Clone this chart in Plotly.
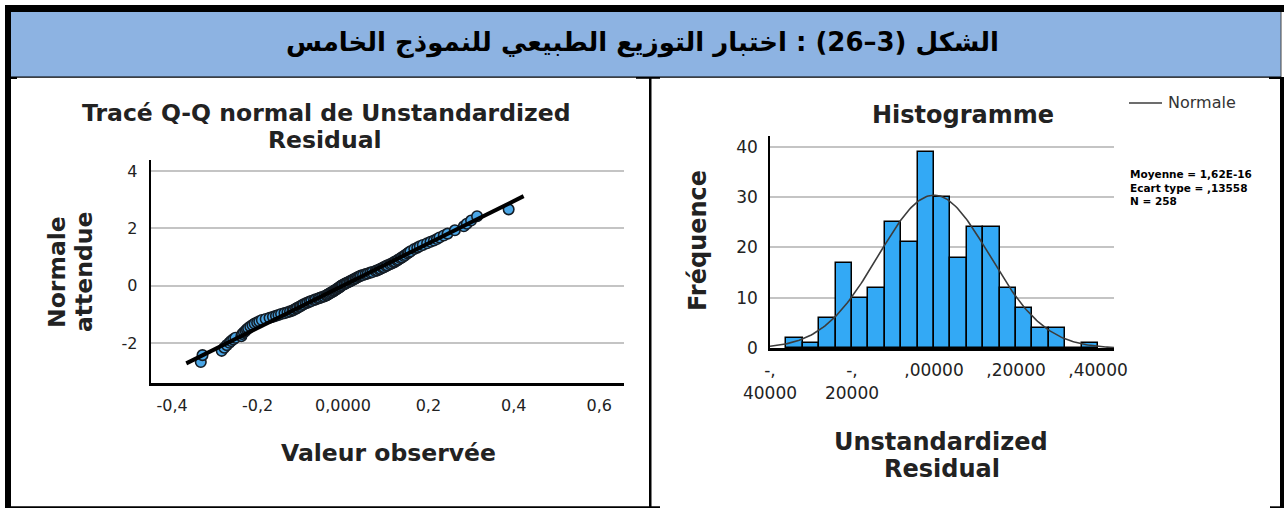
import math
import plotly.graph_objects as go

W, H = 1284, 508

# ---------------- data ----------------
# Q-Q plot: observed unstandardized residuals (x) vs expected normal values (y)
qq_observed = [-0.333, -0.329, -0.284, -0.278, -0.272, -0.266, -0.262, -0.257, -0.252,
               -0.238, -0.236, -0.232, -0.228, -0.225, -0.222, -0.217, -0.212, -0.207,
               -0.201, -0.196, -0.190, -0.181, -0.172, -0.164, -0.157, -0.151, -0.145,
               -0.137, -0.130, -0.124, -0.118, -0.115, -0.110, -0.107, -0.102, -0.099,
               -0.095, -0.092, -0.087, -0.083, -0.078, -0.074, -0.068, -0.064, -0.058,
               -0.054, -0.049, -0.044, -0.039, -0.037, -0.034, -0.031, -0.028, -0.025,
               -0.022, -0.020, -0.017, -0.015, -0.012, -0.010, -0.007, -0.006, -0.003,
               -0.001, 0.003, 0.005, 0.009, 0.012, 0.016, 0.019, 0.022, 0.025, 0.029,
               0.031, 0.035, 0.038, 0.042, 0.047, 0.053, 0.058, 0.064, 0.069, 0.076,
               0.080, 0.085, 0.088, 0.093, 0.096, 0.101, 0.104, 0.110, 0.114, 0.119,
               0.122, 0.127, 0.130, 0.135, 0.138, 0.143, 0.146, 0.151, 0.154, 0.158,
               0.167, 0.174, 0.180, 0.187, 0.197, 0.205, 0.213, 0.220, 0.226, 0.236,
               0.245, 0.262, 0.283, 0.290, 0.300, 0.314, 0.388]
qq_expected = [-2.66, -2.42, -2.27, -2.16, -2.07, -1.99, -1.93, -1.87, -1.815,
               -1.76, -1.681, -1.62, -1.573, -1.52, -1.480, -1.42, -1.372, -1.32,
               -1.280, -1.24, -1.196, -1.16, -1.120, -1.085, -1.050, -1.02, -0.985,
               -0.955, -0.924, -0.895, -0.867, -0.839, -0.798, -0.772, -0.733, -0.708,
               -0.672, -0.647, -0.612, -0.589, -0.554, -0.533, -0.499, -0.477, -0.445,
               -0.424, -0.392, -0.371, -0.340, -0.319, -0.289, -0.269, -0.239, -0.220,
               -0.190, -0.170, -0.141, -0.121, -0.092, -0.073, -0.044, -0.024, 0.005,
               0.024, 0.053, 0.073, 0.102, 0.121, 0.151, 0.170, 0.200, 0.220, 0.249,
               0.269, 0.300, 0.319, 0.350, 0.371, 0.403, 0.424, 0.456, 0.477, 0.510,
               0.533, 0.566, 0.589, 0.624, 0.647, 0.684, 0.708, 0.746, 0.772, 0.812,
               0.839, 0.881, 0.910, 0.955, 0.986, 1.034, 1.068, 1.120, 1.157, 1.196,
               1.280, 1.325, 1.372, 1.420, 1.480, 1.530, 1.573, 1.625, 1.681, 1.750,
               1.815, 1.93, 2.07, 2.16, 2.27, 2.42, 2.66]
qq_line_x = [-0.367, 0.423]          # extent of the fitted reference line

# Histogram
hist_bin_start = [-0.36, -0.32, -0.28, -0.24, -0.20, -0.16, -0.12, -0.08, -0.04, 0.00,
                  0.04, 0.08, 0.12, 0.16, 0.20, 0.24, 0.28, 0.32, 0.36]
hist_counts = [2, 1, 6, 17, 10, 12, 25, 21, 39, 30, 18, 24, 24, 12, 8, 4, 4, 0, 1]
bin_width = 0.04
resid_mean = 1.62e-16
resid_sd = 0.13558
resid_n = 258

qq_xticks = [-0.4, -0.2, 0.0, 0.2, 0.4, 0.6]
qq_xticktext = ["-0,4", "-0,2", "0,0000", "0,2", "0,4", "0,6"]
qq_yticks = [-2, 0, 2, 4]
qq_yticktext = ["-2", "0", "2", "4"]
hist_xticks = [-0.4, -0.2, 0.0, 0.2, 0.4]
hist_xticktext = ["-,<br>40000", "-,<br>20000", ",00000", ",20000", ",40000"]
hist_yticks = [0, 10, 20, 30, 40]

title_ar = "\u202Bالشكل (3\u201326) : اختبار التوزيع الطبيعي للنموذج الخامس\u202C"
stats_text = "Moyenne = 1,62E-16<br>Ecart type = ,13558<br>N = 258"

# ---------------- helpers ----------------
def fx(px):
    return px / W

def fy(py):
    return 1 - py / H

FONT = "DejaVu Sans"
TXT = "#222222"

fig = go.Figure()

# Q-Q plot: points, then the fitted line on top
fig.add_trace(go.Scatter(
    x=qq_observed, y=qq_expected, mode="markers",
    marker=dict(size=10.5, color="#4AA6E6", line=dict(color="#141c24", width=1.6)),
    xaxis="x", yaxis="y", showlegend=False, hoverinfo="skip"))
fig.add_trace(go.Scatter(
    x=qq_line_x, y=[(v - resid_mean) / resid_sd for v in qq_line_x], mode="lines",
    line=dict(color="black", width=4), xaxis="x", yaxis="y", showlegend=False,
    hoverinfo="skip"))

# Histogram
fig.add_trace(go.Bar(
    x=[s + bin_width / 2 for s in hist_bin_start], y=hist_counts, width=bin_width,
    marker=dict(color="#33A9F5", line=dict(color="black", width=1.5)),
    xaxis="x2", yaxis="y2", showlegend=False, hoverinfo="skip"))

x_lo, x_hi = -0.40, 0.439
steps = 200
curve_x = [x_lo + (x_hi - x_lo) * i / steps for i in range(steps + 1)]
curve_y = [resid_n * bin_width / (resid_sd * math.sqrt(2 * math.pi)) *
           math.exp(-0.5 * ((v - resid_mean) / resid_sd) ** 2) for v in curve_x]
fig.add_trace(go.Scatter(
    x=curve_x, y=curve_y, mode="lines", line=dict(color="#3c3c3c", width=1.6),
    xaxis="x2", yaxis="y2", showlegend=False, hoverinfo="skip"))

tickfont = dict(family=FONT, size=16, color=TXT)
axis_common = dict(showline=True, linecolor="black", zeroline=False, ticks="",
                   automargin=False, fixedrange=True)

fig.update_layout(
    template="none",
    width=W, height=H, margin=dict(l=0, r=0, t=0, b=0, pad=0, autoexpand=False),
    paper_bgcolor="white", plot_bgcolor="white", showlegend=False,
    xaxis=dict(domain=[fx(150.7), fx(624.3)], range=[-0.4503, 0.6588],
               tickvals=qq_xticks, ticktext=qq_xticktext, showgrid=False,
               linewidth=2.5, anchor="y", ticklabelstandoff=6, tickfont=tickfont,
               **axis_common),
    yaxis=dict(domain=[fy(382.7), fy(160)], range=[-3.38, 4.38],
               tickvals=qq_yticks, ticktext=qq_yticktext, showgrid=True,
               gridcolor="#C4C4C4", gridwidth=1.5,
               linewidth=2, anchor="x", ticklabelstandoff=8, tickfont=tickfont,
               **axis_common),
    xaxis2=dict(domain=[fx(770), fx(1114)], range=[-0.40, 0.439],
                tickvals=hist_xticks, ticktext=hist_xticktext, showgrid=False,
                linewidth=2.5, anchor="y2", ticklabelstandoff=5,
                tickfont=dict(family=FONT, size=17, color=TXT), **axis_common),
    yaxis2=dict(domain=[fy(348.3), fy(136)], range=[0, 42.1],
                tickvals=hist_yticks, showgrid=True, gridcolor="#C4C4C4", gridwidth=1.5,
                linewidth=1.5, anchor="x2", ticklabelstandoff=7,
                tickfont=dict(family=FONT, size=17, color=TXT), **axis_common),
    bargap=0,
)

# ---------------- frame / table borders ----------------
def rect(x0, y0, x1, y1, color):
    fig.add_shape(type="rect", xref="paper", yref="paper", x0=fx(x0), x1=fx(x1),
                  y0=fy(y1), y1=fy(y0), fillcolor=color, line=dict(width=0),
                  layer="above")

rect(11, 12, 1281, 77, "#8DB3E2")      # title band
rect(5, 5, 1284, 12, "black")          # top border
rect(5, 5, 11, 508, "black")           # left border
rect(1280, 77, 1284, 508, "black")     # right border
rect(1280.5, 12, 1281.5, 77, "#444444")
rect(11, 76.5, 1281, 77.8, "black")    # line under the band
rect(11, 77, 17, 79, "black")
rect(636, 77, 660, 78.8, "black")
rect(1269, 77, 1284, 79, "black")
rect(649, 77, 651.5, 508, "black")     # cell divider
rect(5, 506.3, 660, 508, "black")      # bottom of left cell
rect(1270, 506.3, 1284, 508, "black")

# ---------------- texts ----------------
def text(x, y, s, size, bold=False, color=TXT, xanchor="center", yanchor="middle",
         angle=0, family=FONT, align="center"):
    fig.add_annotation(xref="paper", yref="paper", x=fx(x), y=fy(y), text=s,
                       showarrow=False, xanchor=xanchor, yanchor=yanchor,
                       textangle=angle, align=align,
                       font=dict(family=family, size=size, color=color,
                                 weight="bold" if bold else "normal"))

text(642, 43, title_ar, 26, bold=True, color="black")

text(326, 113, "Tracé Q-Q normal de Unstandardized", 23.5, bold=True)
text(325, 140, "Residual", 23.5, bold=True)
text(57, 272, "Normale", 23.5, bold=True, angle=-90)
text(84, 272, "attendue", 23.5, bold=True, angle=-90)
text(388, 453, "Valeur observée", 23.5, bold=True)

text(963, 115, "Histogramme", 24, bold=True)
text(698, 241, "Fréquence", 24, bold=True, angle=-90)
text(941, 442, "Unstandardized", 24, bold=True)
text(942, 469, "Residual", 24, bold=True)

# legend
fig.add_shape(type="line", xref="paper", yref="paper", x0=fx(1129), x1=fx(1162),
              y0=fy(103), y1=fy(103), line=dict(color="#3c3c3c", width=1.6))
text(1166, 103, "Normale", 16, color="#333333", xanchor="left")
text(1128, 166, stats_text, 10.5, bold=True, color="black", xanchor="left",
     yanchor="top", align="left")

fig.write_html("out.html")
